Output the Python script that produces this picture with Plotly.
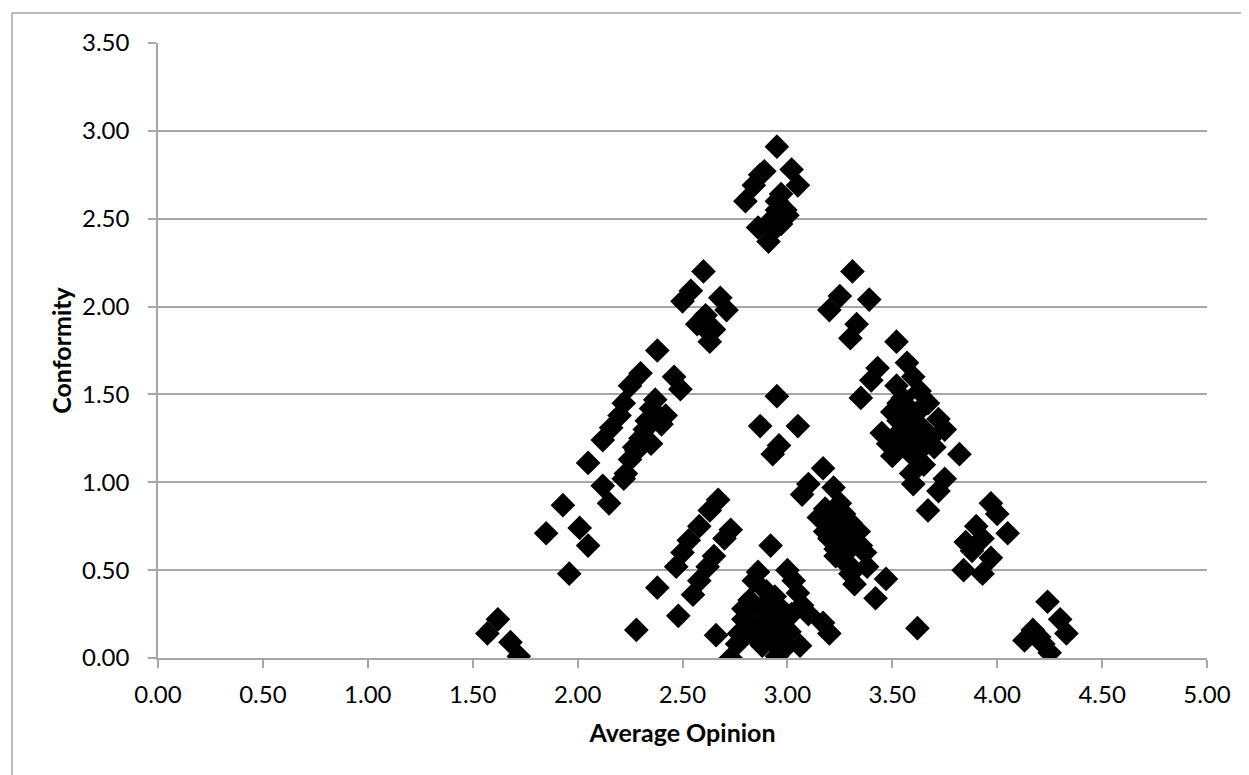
"""
Conformity vs average opinion scatter
"""
import plotly.graph_objects as go

# values
avg_opinion = [
    1.57, 1.62, 1.68, 1.72,
    1.85, 1.93, 1.96, 2.01, 2.05, 2.05,
    2.12, 2.15, 2.12, 2.16, 2.20, 2.22, 2.25, 2.30, 2.28, 2.23, 2.25, 2.30,
    2.32, 2.33, 2.27, 2.22, 2.35, 2.37, 2.38, 2.40, 2.42, 2.35, 2.28,
    2.38, 2.46, 2.49, 2.48, 2.47, 2.50, 2.53, 2.55, 2.58, 2.58, 2.62, 2.63,
    2.65, 2.67, 2.66, 2.70, 2.73,
    2.50, 2.54, 2.60, 2.57, 2.61, 2.63, 2.65, 2.68, 2.71, 2.63,
    2.80, 2.84, 2.87, 2.89, 2.95, 2.86, 2.91, 2.93, 2.95, 2.95, 2.97, 2.99,
    3.02, 3.05, 2.93, 2.97, 3.00,
    2.87, 2.95, 2.93, 2.96, 3.05,
    2.92, 2.73, 2.76, 2.77, 2.79, 2.79, 2.82, 2.84, 2.86, 2.85, 2.88, 2.90,
    2.92, 2.94, 2.88, 2.90, 2.93, 2.96, 2.95, 2.97, 2.99, 3.01, 3.00, 3.03,
    3.05, 3.07, 3.10, 3.06, 2.83, 2.87, 2.90, 2.92, 3.02, 2.97, 2.95,
    3.07, 3.10, 3.15, 3.17, 3.18, 3.20, 3.22, 3.20, 3.23, 3.25, 3.27, 3.27,
    3.30, 3.30, 3.32, 3.34, 3.35, 3.37, 3.38, 3.42, 3.47, 3.17, 3.20, 3.24,
    3.28, 3.31, 3.22, 3.25, 3.26, 3.29, 3.18, 3.21, 3.23,
    3.20, 3.25, 3.31, 3.30, 3.33, 3.39, 3.35, 3.40, 3.43, 3.45, 3.48, 3.50,
    3.52, 3.52, 3.53, 3.55, 3.57, 3.59, 3.60, 3.57, 3.60, 3.63, 3.67, 3.62,
    3.63, 3.65, 3.67, 3.70, 3.72, 3.75, 3.72, 3.75, 3.82, 3.50, 3.55, 3.58,
    3.62, 3.53, 3.55, 3.58, 3.60, 3.62, 3.65, 3.57, 3.60, 3.64, 3.68, 3.53,
    3.84, 3.85, 3.88, 3.90, 3.93, 3.93, 3.97, 3.97, 4.00, 4.05,
    4.13, 4.17, 4.20, 4.24, 4.25, 4.30, 4.33, 4.22,
]
conformity = [
    0.14, 0.22, 0.09, 0.01,
    0.71, 0.87, 0.48, 0.74, 0.64, 1.11,
    0.98, 0.88, 1.24, 1.31, 1.38, 1.45, 1.55, 1.62, 1.18, 1.05, 1.13, 1.25,
    1.30, 1.35, 1.20, 1.02, 1.42, 1.47, 1.75, 1.33, 1.38, 1.22, 0.16,
    0.40, 1.60, 1.53, 0.24, 0.52, 0.60, 0.67, 0.36, 0.75, 0.44, 0.52, 0.84,
    0.58, 0.90, 0.13, 0.68, 0.73,
    2.03, 2.09, 2.20, 1.90, 1.95, 1.80, 1.87, 2.05, 1.98, 1.85,
    2.60, 2.69, 2.75, 2.77, 2.91, 2.45, 2.37, 2.50, 2.55, 2.60, 2.64, 2.55,
    2.78, 2.69, 2.43, 2.47, 2.52,
    1.32, 1.49, 1.16, 1.21, 1.32,
    0.64, 0.00, 0.08, 0.14, 0.22, 0.28, 0.33, 0.44, 0.49, 0.11, 0.17, 0.25,
    0.30, 0.35, 0.07, 0.12, 0.20, 0.22, 0.01, 0.10, 0.06, 0.15, 0.50, 0.44,
    0.37, 0.30, 0.25, 0.07, 0.19, 0.28, 0.38, 0.10, 0.25, 0.28, 0.16,
    0.93, 0.99, 0.80, 1.08, 0.85, 0.75, 0.97, 0.68, 0.62, 0.88, 0.82, 0.55,
    0.77, 0.48, 0.42, 0.72, 0.64, 0.60, 0.52, 0.34, 0.45, 0.20, 0.14, 0.70,
    0.60, 0.51, 0.78, 0.72, 0.65, 0.70, 0.72, 0.82, 0.58,
    1.98, 2.06, 2.20, 1.82, 1.90, 2.04, 1.48, 1.58, 1.65, 1.28, 1.22, 1.15,
    1.80, 1.55, 1.45, 1.38, 1.32, 1.05, 0.99, 1.68, 1.60, 1.52, 1.45, 1.25,
    1.18, 1.10, 0.84, 1.20, 0.95, 1.02, 1.36, 1.30, 1.16, 1.40, 1.25, 1.30,
    0.17, 1.35, 1.48, 1.42, 1.35, 1.40, 1.30, 1.20, 1.15, 1.22, 1.25, 1.28,
    0.50, 0.66, 0.61, 0.75, 0.68, 0.48, 0.57, 0.88, 0.82, 0.71,
    0.10, 0.16, 0.12, 0.32, 0.03, 0.22, 0.14, 0.08,
]

x_ticks = [0, 0.5, 1, 1.5, 2, 2.5, 3, 3.5, 4, 4.5, 5]
y_ticks = [0, 0.5, 1, 1.5, 2, 2.5, 3, 3.5]

FONT = "Lato"
GRID = "#a6a6a6"
# page body adds about 8px around the figure, so the figure is made smaller
OFF = 8
W, H = 1249 - OFF, 775 - OFF
L, T, R, B = 158 - OFF, 43 - OFF, 42, 117
PW, PH = W - L - R, H - T - B

fig = go.Figure()
fig.add_trace(go.Scatter(
    x=avg_opinion,
    y=conformity,
    mode="markers",
    marker=dict(symbol="diamond", size=19, color="black", line=dict(width=0)),
    showlegend=False,
))

fig.update_layout(
    width=W,
    height=H,
    margin=dict(l=L, r=R, t=T, b=B, autoexpand=False),
    paper_bgcolor="white",
    plot_bgcolor="white",
    font=dict(family=FONT, size=24, color="black"),
    xaxis=dict(
        range=[0, 5],
        tickvals=x_ticks,
        ticktext=[f"{v:.2f}" for v in x_ticks],
        showgrid=False,
        zeroline=False,
        showline=True,
        linecolor=GRID,
        linewidth=1.5,
        ticks="outside",
        ticklen=8,
        tickcolor=GRID,
        tickwidth=1.5,
        ticklabelstandoff=6,
        title=dict(text="<b>Average Opinion</b>", font=dict(size=25), standoff=18),
    ),
    yaxis=dict(
        range=[0, 3.5],
        tickvals=y_ticks,
        ticktext=[f"{v:.2f}" for v in y_ticks],
        showgrid=True,
        gridcolor=GRID,
        gridwidth=1.5,
        zeroline=False,
        showline=True,
        linecolor=GRID,
        linewidth=1.5,
        ticks="outside",
        ticklen=8,
        tickcolor=GRID,
        tickwidth=1.5,
        ticklabelstandoff=14,
        title=dict(text="<b>Conformity</b>", font=dict(size=25), standoff=3),
    ),
    shapes=[dict(
        type="rect", xref="paper", yref="paper",
        x0=(12 - 158) / PW, x1=(1247 - 158) / PW,
        y0=(658 - 790) / PH, y1=1 + (43 - 13) / PH,
        line=dict(color=GRID, width=1.5), layer="below",
    )],
)

fig.write_html("out.html")
